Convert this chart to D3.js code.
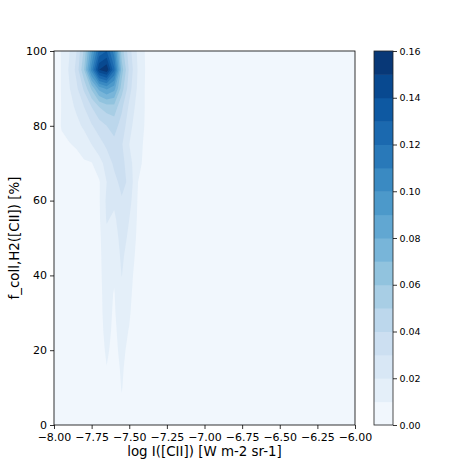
<!DOCTYPE html>
<html>
<head>
<meta charset="utf-8">
<script src="https://cdn.jsdelivr.net/npm/d3@7"></script>
<style>
  body { margin: 0; background: #fff; }
  svg text { font-family: "DejaVu Sans", sans-serif; fill: #000; }
</style>
</head>
<body>
<div class="chart"></div>
<script>
// grid nodes of the density map
var xNodes = [-8.00, -7.95, -7.90, -7.85, -7.80, -7.75, -7.70, -7.65, -7.60, -7.55, -7.50, -7.45, -7.40, -7.35, -7.30];
var yNodes = [100, 95, 90, 85, 80, 75, 70, 65, 60, 55, 50, 45, 40, 35, 30, 25, 20, 15, 10, 5, 0];

// density per mille, one row per yNodes entry (top row first)
var densityRows = [
  [0, 11, 19, 30, 52, 88, 122, 130, 105, 55, 34, 20, 10.5, 2, 0],
  [0, 11, 21, 33, 60, 105, 150, 158, 122, 65, 38, 21, 11, 2, 0],
  [0, 11, 19, 28, 42, 62, 84, 92, 84, 55, 34, 20, 10.5, 2, 0],
  [0, 10.5, 16, 22, 30, 40, 50, 55, 56, 42, 28, 17, 10.5, 2, 0],
  [0, 11, 13, 17, 22, 29, 35, 40, 44, 36, 24, 14, 10, 2, 0],
  [0, 7, 9.5, 11, 14, 20, 26, 32, 37, 31, 20, 12, 9.5, 2, 0],
  [0, 3, 5, 7, 9, 9.5, 16, 24, 32, 33, 25, 12, 9, 2, 0],
  [0, 0, 0, 2, 4, 6, 9, 20, 27, 33, 28, 11, 5, 1, 0],
  [0, 0, 0, 0, 1, 4, 9, 22, 22, 29, 24, 10.5, 4, 1, 0],
  [0, 0, 0, 0, 0, 3, 8.5, 21, 18, 26, 20, 10, 3, 0, 0],
  [0, 0, 0, 0, 0, 2, 8, 17, 15, 24, 18, 9, 2, 0, 0],
  [0, 0, 0, 0, 0, 2, 8, 15, 13, 22, 15, 8, 2, 0, 0],
  [0, 0, 0, 0, 0, 1, 8, 14, 11, 20.3, 13, 7, 1, 0, 0],
  [0, 0, 0, 0, 0, 1, 8, 13, 9.5, 17, 12, 6, 1, 0, 0],
  [0, 0, 0, 0, 0, 1, 8, 12.5, 9, 15, 11, 5, 0, 0, 0],
  [0, 0, 0, 0, 0, 0, 7.5, 12, 8.5, 13, 9.5, 4, 0, 0, 0],
  [0, 0, 0, 0, 0, 0, 7, 11, 8, 12, 8, 3, 0, 0, 0],
  [0, 0, 0, 0, 0, 0, 6, 9.8, 7, 11, 7, 2, 0, 0, 0],
  [0, 0, 0, 0, 0, 0, 5, 8.5, 6, 10.4, 6, 1, 0, 0, 0],
  [0, 0, 0, 0, 0, 0, 4, 7, 5, 9, 5, 0, 0, 0, 0],
  [0, 0, 0, 0, 0, 0, 3, 6, 4, 8, 4, 0, 0, 0, 0]
];

var levels = [0, 0.01, 0.02, 0.03, 0.04, 0.05, 0.06, 0.07, 0.08, 0.09, 0.10, 0.11, 0.12, 0.13, 0.14, 0.15, 0.16];
var xTicks = [-8.00, -7.75, -7.50, -7.25, -7.00, -6.75, -6.50, -6.25, -6.00];
var yTicks = [0, 20, 40, 60, 80, 100];
var cbarTicks = [0, 0.02, 0.04, 0.06, 0.08, 0.10, 0.12, 0.14, 0.16];

var W = 471, H = 471;
var plot = {left: 54, right: 355, top: 51, bottom: 425};
var cbar = {left: 374, right: 393};

var x = d3.scaleLinear().domain([-8, -6]).range([plot.left, plot.right]);
var y = d3.scaleLinear().domain([0, 100]).range([plot.bottom, plot.top]);

// matplotlib "Blues": linear through the 9 brewer colours
var blues = d3.scaleLinear()
  .domain(d3.range(9).map(function(i) { return i / 8; }))
  .range(d3.schemeBlues[9])
  .interpolate(d3.interpolateRgb);
var nBands = levels.length - 1;
function bandColor(i) { return blues((i + 0.5) / nBands); }

var svg = d3.select(".chart").append("svg")
  .attr("width", W)
  .attr("height", H);

svg.append("clipPath").attr("id", "plotclip")
  .append("rect")
  .attr("x", plot.left).attr("y", plot.top)
  .attr("width", plot.right - plot.left)
  .attr("height", plot.bottom - plot.top);

var g = svg.append("g").attr("clip-path", "url(#plotclip)");

g.append("rect")
  .attr("x", plot.left).attr("y", plot.top)
  .attr("width", plot.right - plot.left)
  .attr("height", plot.bottom - plot.top)
  .attr("fill", bandColor(0));

var values = [];
densityRows.forEach(function(row) {
  row.forEach(function(v) { values.push(v / 1000); });
});

var nx = xNodes.length, ny = yNodes.length;
var dxStep = xNodes[1] - xNodes[0], dyStep = yNodes[1] - yNodes[0];

var contours = d3.contours()
  .size([nx, ny])
  .thresholds(levels.slice(1, -1))(values);

var toData = d3.geoTransform({
  point: function(cx, cy) {
    this.stream.point(x(xNodes[0] + (cx - 0.5) * dxStep), y(yNodes[0] + (cy - 0.5) * dyStep));
  }
});
var path = d3.geoPath(toData);

g.selectAll(".band")
  .data(contours)
  .enter().append("path")
    .attr("class", "band")
    .attr("d", path)
    .attr("fill", function(d) { return bandColor(levels.indexOf(d.value)); })
    .attr("stroke", "none");

// axes
var xAxis = d3.axisBottom(x).tickValues(xTicks).tickFormat(d3.format(".2f")).tickSize(4).tickPadding(4.5);
var yAxis = d3.axisLeft(y).tickValues(yTicks).tickFormat(d3.format("d")).tickSize(4).tickPadding(3);

var gx = svg.append("g")
  .attr("transform", "translate(0," + plot.bottom + ")")
  .call(xAxis);
var gy = svg.append("g")
  .attr("transform", "translate(" + plot.left + ",0)")
  .call(yAxis);
gy.selectAll("text").attr("dy", "0.3em");
[gx, gy].forEach(function(a) {
  a.select(".domain").remove();
  a.selectAll("text").style("font-size", "11px").style("font-family", "DejaVu Sans");
  a.selectAll("line").attr("stroke", "#000").attr("stroke-width", 0.8);
});

svg.append("rect")
  .attr("x", plot.left).attr("y", plot.top)
  .attr("width", plot.right - plot.left)
  .attr("height", plot.bottom - plot.top)
  .attr("fill", "none")
  .attr("stroke", "#000")
  .attr("stroke-width", 0.8);

svg.append("text")
  .attr("x", (plot.left + plot.right) / 2)
  .attr("y", 456)
  .attr("text-anchor", "middle")
  .style("font-size", "13.4px")
  .text("log I([CII]) [W m-2 sr-1]");

svg.append("text")
  .attr("transform", "translate(19," + (plot.top + plot.bottom) / 2 + ") rotate(-90)")
  .attr("text-anchor", "middle")
  .style("font-size", "13.4px")
  .text("f_coll,H2([CII]) [%]");

// colorbar
var cy = d3.scaleLinear().domain([levels[0], levels[levels.length - 1]]).range([plot.bottom, plot.top]);

svg.selectAll(".cband")
  .data(d3.range(nBands))
  .enter().append("rect")
    .attr("class", "cband")
    .attr("x", cbar.left)
    .attr("width", cbar.right - cbar.left)
    .attr("y", function(i) { return cy(levels[i + 1]); })
    .attr("height", function(i) { return cy(levels[i]) - cy(levels[i + 1]) + 0.5; })
    .attr("fill", function(i) { return bandColor(i); });

svg.append("rect")
  .attr("x", cbar.left).attr("y", plot.top)
  .attr("width", cbar.right - cbar.left)
  .attr("height", plot.bottom - plot.top)
  .attr("fill", "none")
  .attr("stroke", "#222")
  .attr("stroke-width", 0.8);

var gc = svg.append("g")
  .attr("transform", "translate(" + cbar.right + ",0)")
  .call(d3.axisRight(cy).tickValues(cbarTicks).tickFormat(d3.format(".2f")).tickSize(4).tickPadding(2.5));
gc.select(".domain").remove();
gc.selectAll("text").style("font-size", "9.5px").style("font-family", "DejaVu Sans");
gc.selectAll("line").attr("stroke", "#000").attr("stroke-width", 0.8);
</script>
</body>
</html>
